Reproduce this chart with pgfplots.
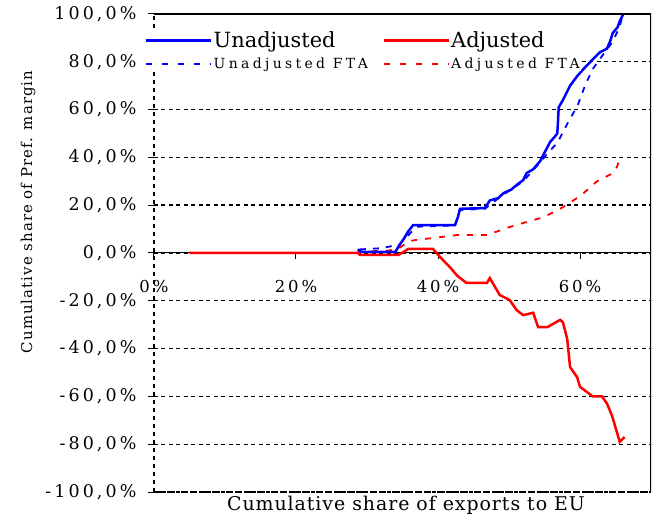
\documentclass[border=0pt]{standalone}
\usepackage{fontspec}
\setmainfont{DejaVu Serif}
\newfontfamily\tickfont[LetterSpace=18]{DejaVu Serif}
\newfontfamily\legfont[LetterSpace=24]{DejaVu Serif}
\newfontfamily\ylabfont[LetterSpace=7]{DejaVu Serif}
\newfontfamily\xlabfont[LetterSpace=5]{DejaVu Serif}
\usepackage{pgfplots}
\pgfplotsset{compat=1.18}

\begin{document}
\begin{tikzpicture}
\begin{axis}[
  scale only axis, width=497bp, height=478bp,
  at={(0,0)}, anchor=south west,
  xmin=0, xmax=70, ymin=-100, ymax=100,
  axis x line=middle, axis y line=left,
  axis line style={-},
  every inner x axis line/.append style={-},
  every outer y axis line/.append style={-},
  x axis line style={black, line width=1bp},
  y axis line style={black, line width=1.3bp, dash pattern=on 4bp off 4bp},
  tick align=outside, major tick length=6bp,
  tick style={black, line width=1bp},
  hide obscured x ticks=false,
  xtick={0,20,40,60}, xticklabels={0\%,20\%,40\%,60\%},
  xticklabel style={font=\tickfont\fontsize{16.5}{16.5}\selectfont, yshift=-18bp},
  ytick={-100,-80,...,100},
  yticklabels={{-100,0\%},{-80,0\%},{-60,0\%},{-40,0\%},{-20,0\%},{0,0\%},{20,0\%},{40,0\%},{60,0\%},{80,0\%},{100,0\%}},
  yticklabel style={font=\tickfont\fontsize{17.5}{17.5}\selectfont, xshift=-8bp},
  ymajorgrids,
  grid style={black, line width=1.4bp, dash pattern=on 4bp off 3.5bp},
  xlabel={Cumulative share of exports to EU},
  every axis x label/.style={at={(rel axis cs:0.507,0)}, anchor=north, yshift=-1bp, font=\xlabfont\fontsize{19}{19}\selectfont},
  ylabel={Cumulative share of Pref. margin},
  every axis y label/.style={at={(rel axis cs:0,0.586)}, xshift=-126bp, rotate=90, anchor=center, font=\ylabfont\fontsize{15}{15}\selectfont},
  legend columns=2,
  legend cell align=left,
  legend style={at={(rel axis cs:-0.018,0.965)}, anchor=north west, draw=none, fill=white,
    inner sep=0pt, row sep=7bp, nodes={inner sep=1bp}},
  legend image code/.code={\draw[#1] (0bp,0bp) -- (65bp,0bp);},
]
\addlegendimage{blue, line width=2.5bp}
\addlegendentry{\makebox[168bp][l]{\fontsize{21}{21}\selectfont Unadjusted}}
\addlegendimage{red, line width=2.5bp}
\addlegendentry{\fontsize{21}{21}\selectfont Adjusted}
\addlegendimage{blue, line width=2bp, dash pattern=on 6bp off 10bp}
\addlegendentry{\legfont\fontsize{14}{14}\selectfont Unadjusted FTA}
\addlegendimage{red, line width=2bp, dash pattern=on 6bp off 10bp}
\addlegendentry{\legfont\fontsize{14}{14}\selectfont Adjusted FTA}

% Unadjusted FTA
\addplot[forget plot, blue, line width=1.8bp, dash pattern=on 6bp off 7bp] coordinates {
(29,1.5) (32,2) (34.5,3.5) (36,8) (37,11) (42.4,11.5) (43.1,18) (46.6,18.5)
(49,24) (52,30) (54.4,38) (55.5,42) (56.8,46) (58.2,54) (59.7,62) (60.7,70)
(61.8,77) (63,82) (64.5,88) (65.5,94) (66.1,100)
};
% Adjusted FTA
\addplot[forget plot, red, line width=1.8bp, dash pattern=on 6bp off 8bp] coordinates {
(28.7,0.5) (33,1) (34.5,2) (36,5) (37,5.5) (39.4,6.3) (42.7,7.5) (46.9,7.5)
(49.7,10.5) (52.5,13) (54.9,15) (57.5,19) (60.1,24) (62.4,30) (64.7,33.5)
(65.2,36) (65.6,39.5)
};
% Unadjusted
\addplot[forget plot, blue, line width=2.5bp] coordinates {
(28.7,1.5) (29.2,0.5) (34.0,0.5) (34.5,3) (35.2,6) (35.8,9) (36.5,11.7)
(42.4,11.7) (42.8,15) (43.1,18.5) (46.6,18.8) (47.3,22) (48.5,23) (49.2,25)
(50.3,26.5) (51.1,28.5) (52.0,30.5) (52.5,33.5) (53.4,35) (54.4,38.5)
(55.0,42) (55.8,46.5) (56.4,48.5) (56.8,50) (56.9,55) (57.0,61) (57.6,64)
(58.1,67) (58.6,70) (59.6,74) (60.5,77) (61.8,81) (62.8,84) (63.8,85.5)
(64.3,89) (64.6,92) (65.3,94.5) (65.6,97) (66.1,100)
};
% Adjusted
\addplot[forget plot, red, line width=2.5bp] coordinates {
(5,0) (28.7,0) (29,-0.8) (34.4,-0.8) (35.2,0.5) (35.8,1.7) (39.3,1.7) (40.3,-1.7)
(41.7,-6) (42.7,-9.5) (44.0,-12.5) (46.9,-12.5) (47.3,-10.5) (48.7,-17.6)
(50.1,-19.7) (51.1,-24) (52,-26) (53.4,-25) (54.1,-31) (55.4,-31) (57.2,-28)
(57.6,-29) (58.2,-36) (58.6,-47.7) (59.6,-52) (60,-56) (61.8,-60) (63.1,-60)
(63.8,-63) (64.5,-68) (65.2,-75) (65.6,-79) (66.3,-77)
};

\draw[black, line width=1.3bp] (rel axis cs:0,1) -- (rel axis cs:1,1) -- (rel axis cs:1,0);
\draw[black, line width=2bp, dash pattern=on 3bp off 1.5bp] (rel axis cs:0,0) -- (rel axis cs:1,0);
\end{axis}
\pgfresetboundingbox
\useasboundingbox (-154bp,-31bp) rectangle (507bp,492bp);
\end{tikzpicture}
\end{document}
